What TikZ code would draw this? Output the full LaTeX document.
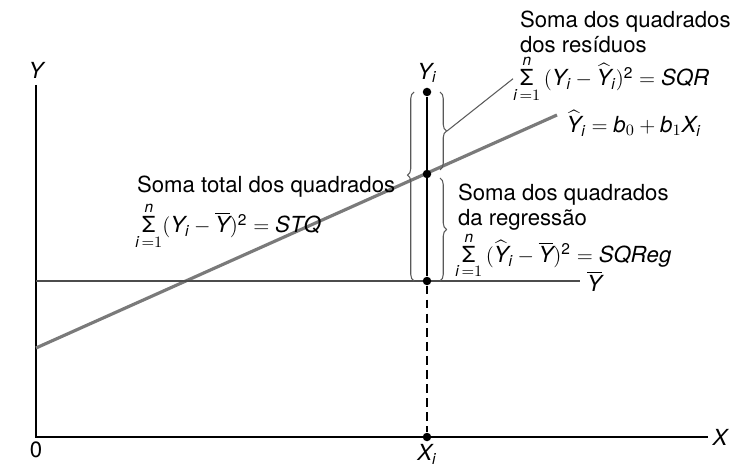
\documentclass[tikz,border=0pt]{standalone}
\usepackage{amsmath}
\usepackage{fontspec}
\setmainfont{TeX Gyre Heros}
\usepackage{tikz}
\usetikzlibrary{positioning,decorations.pathreplacing}

\begin{document}
\begin{tikzpicture}[
    node distance=0.1cm and 0.1cm,
    axis/.style={line width=1.1pt, black},
    regline/.style={line width=1.8pt, black!52},
    meanline/.style={line width=1.1pt, black!70},
    dev/.style={line width=1.3pt, black},
    pt/.style={circle, fill=black, inner sep=0pt, minimum size=0.17cm},
    bracket/.style={decorate, decoration={brace, amplitude=0.13cm}, line width=0.6pt, black!65},
    leader/.style={line width=0.6pt, black!65},
    lbl/.style={inner sep=1pt, align=left},
    formula/.style={inner sep=0pt},
    every node/.style={font=\fontsize{12.6}{14}\selectfont},
]
\useasboundingbox (0,0) rectangle (14.72,9.32);
% axes
\coordinate (O) at (0.72,0.58);
\coordinate (ytop) at (0.72,7.62);
\coordinate (xend) at (14.16,0.58);
\draw[axis] (ytop) -- (O) -- (xend);
\node[lbl, right=0.05cm of xend] (xlab) {$\mathit{X}$};
\node[lbl, above=0.08cm of ytop] (ylab) {$\mathit{Y}$};
\node[lbl, below=0.05cm of O] (zero) {0};
% regression line and mean
\coordinate (rstart) at (0.72,2.36);
\coordinate (rend) at (11.14,7.02);
\draw[regline] (rstart) -- (rend);
\coordinate (mstart) at (0.72,3.70);
\coordinate (mend) at (11.6,3.70);
\draw[meanline] (mstart) -- (mend);
\node[lbl, right=0.15cm of rend, yshift=-0.17cm] (yhatlab)
    {$\widehat{\mathit{Y}}_{\mathit{i}} = \mathit{b}_0 + \mathit{b}_1\mathit{X}_{\mathit{i}}$};
\node[lbl, right=0.1cm of mend] (ybarlab) {$\overline{\mathit{Y}}$};
% points on the vertical at X_i
\node[pt] (xi) at (8.54,0.58) {};
\node[pt] (ybari) at (8.54,3.70) {};
\node[pt] (yhati) at (8.54,5.84) {};
\node[pt] (yi) at (8.54,7.48) {};
\node[lbl, above=0.05cm of yi] (yilab) {$\mathit{Y}_{\mathit{i}}$};
\node[lbl, below=0.02cm of xi] (xilab) {$\mathit{X}_{\mathit{i}}$};
\draw[dev] (yi) -- (ybari);
\draw[dev, dash pattern=on 5pt off 3pt] (ybari) -- (xi);
% brackets
\draw[bracket, decoration={aspect=0.56}] (8.28,3.70) -- (8.28,7.48);
\draw[bracket] (8.80,7.48) -- (8.80,5.92) coordinate[pos=0.5, xshift=0.14cm] (sqrtip);
\draw[bracket] (8.80,5.76) -- (8.80,3.70);
% sums of squares
\node[lbl, anchor=west] (stqtitle) at (2.70,5.58) {Soma total dos quadrados};
\node[formula, below=0.04cm of stqtitle.south west, anchor=north west] (stqf)
    {$\mathop{\textnormal{Σ}}\limits_{\mathit{i}\,=1}^{\mathit{n}}(\mathit{Y}_{\mathit{i}}-\overline{\mathit{Y}})^{\textnormal{2}} = \mathit{STQ}$};
\node[lbl, anchor=north west] (sqrtitle) at (10.36,9.14) {Soma dos quadrados\\dos resíduos};
\node[formula, below=0.0cm of sqrtitle.south west, anchor=north west, xshift=-0.1cm] (sqrf)
    {$\mathop{\textnormal{Σ}}\limits_{\mathit{i}\,=1}^{\mathit{n}}\,(\mathit{Y}_{\mathit{i}}-\widehat{\mathit{Y}}_{\mathit{i}})^{\textnormal{2}} = \mathit{SQR}$};
\node[lbl, anchor=north west] (sqregtitle) at (9.12,5.68) {Soma dos quadrados\\da regressão};
\node[formula, below=-0.02cm of sqregtitle.south west, anchor=north west, xshift=-0.02cm] (sqregf)
    {$\mathop{\textnormal{Σ}}\limits_{\mathit{i}\,=1}^{\mathit{n}}\,(\widehat{\mathit{Y}}_{\mathit{i}}-\overline{\mathit{Y}})^{\textnormal{2}} = \mathit{SQReg}$};
\draw[leader] (sqrtip) -- (sqrf.west);
\end{tikzpicture}
\end{document}
